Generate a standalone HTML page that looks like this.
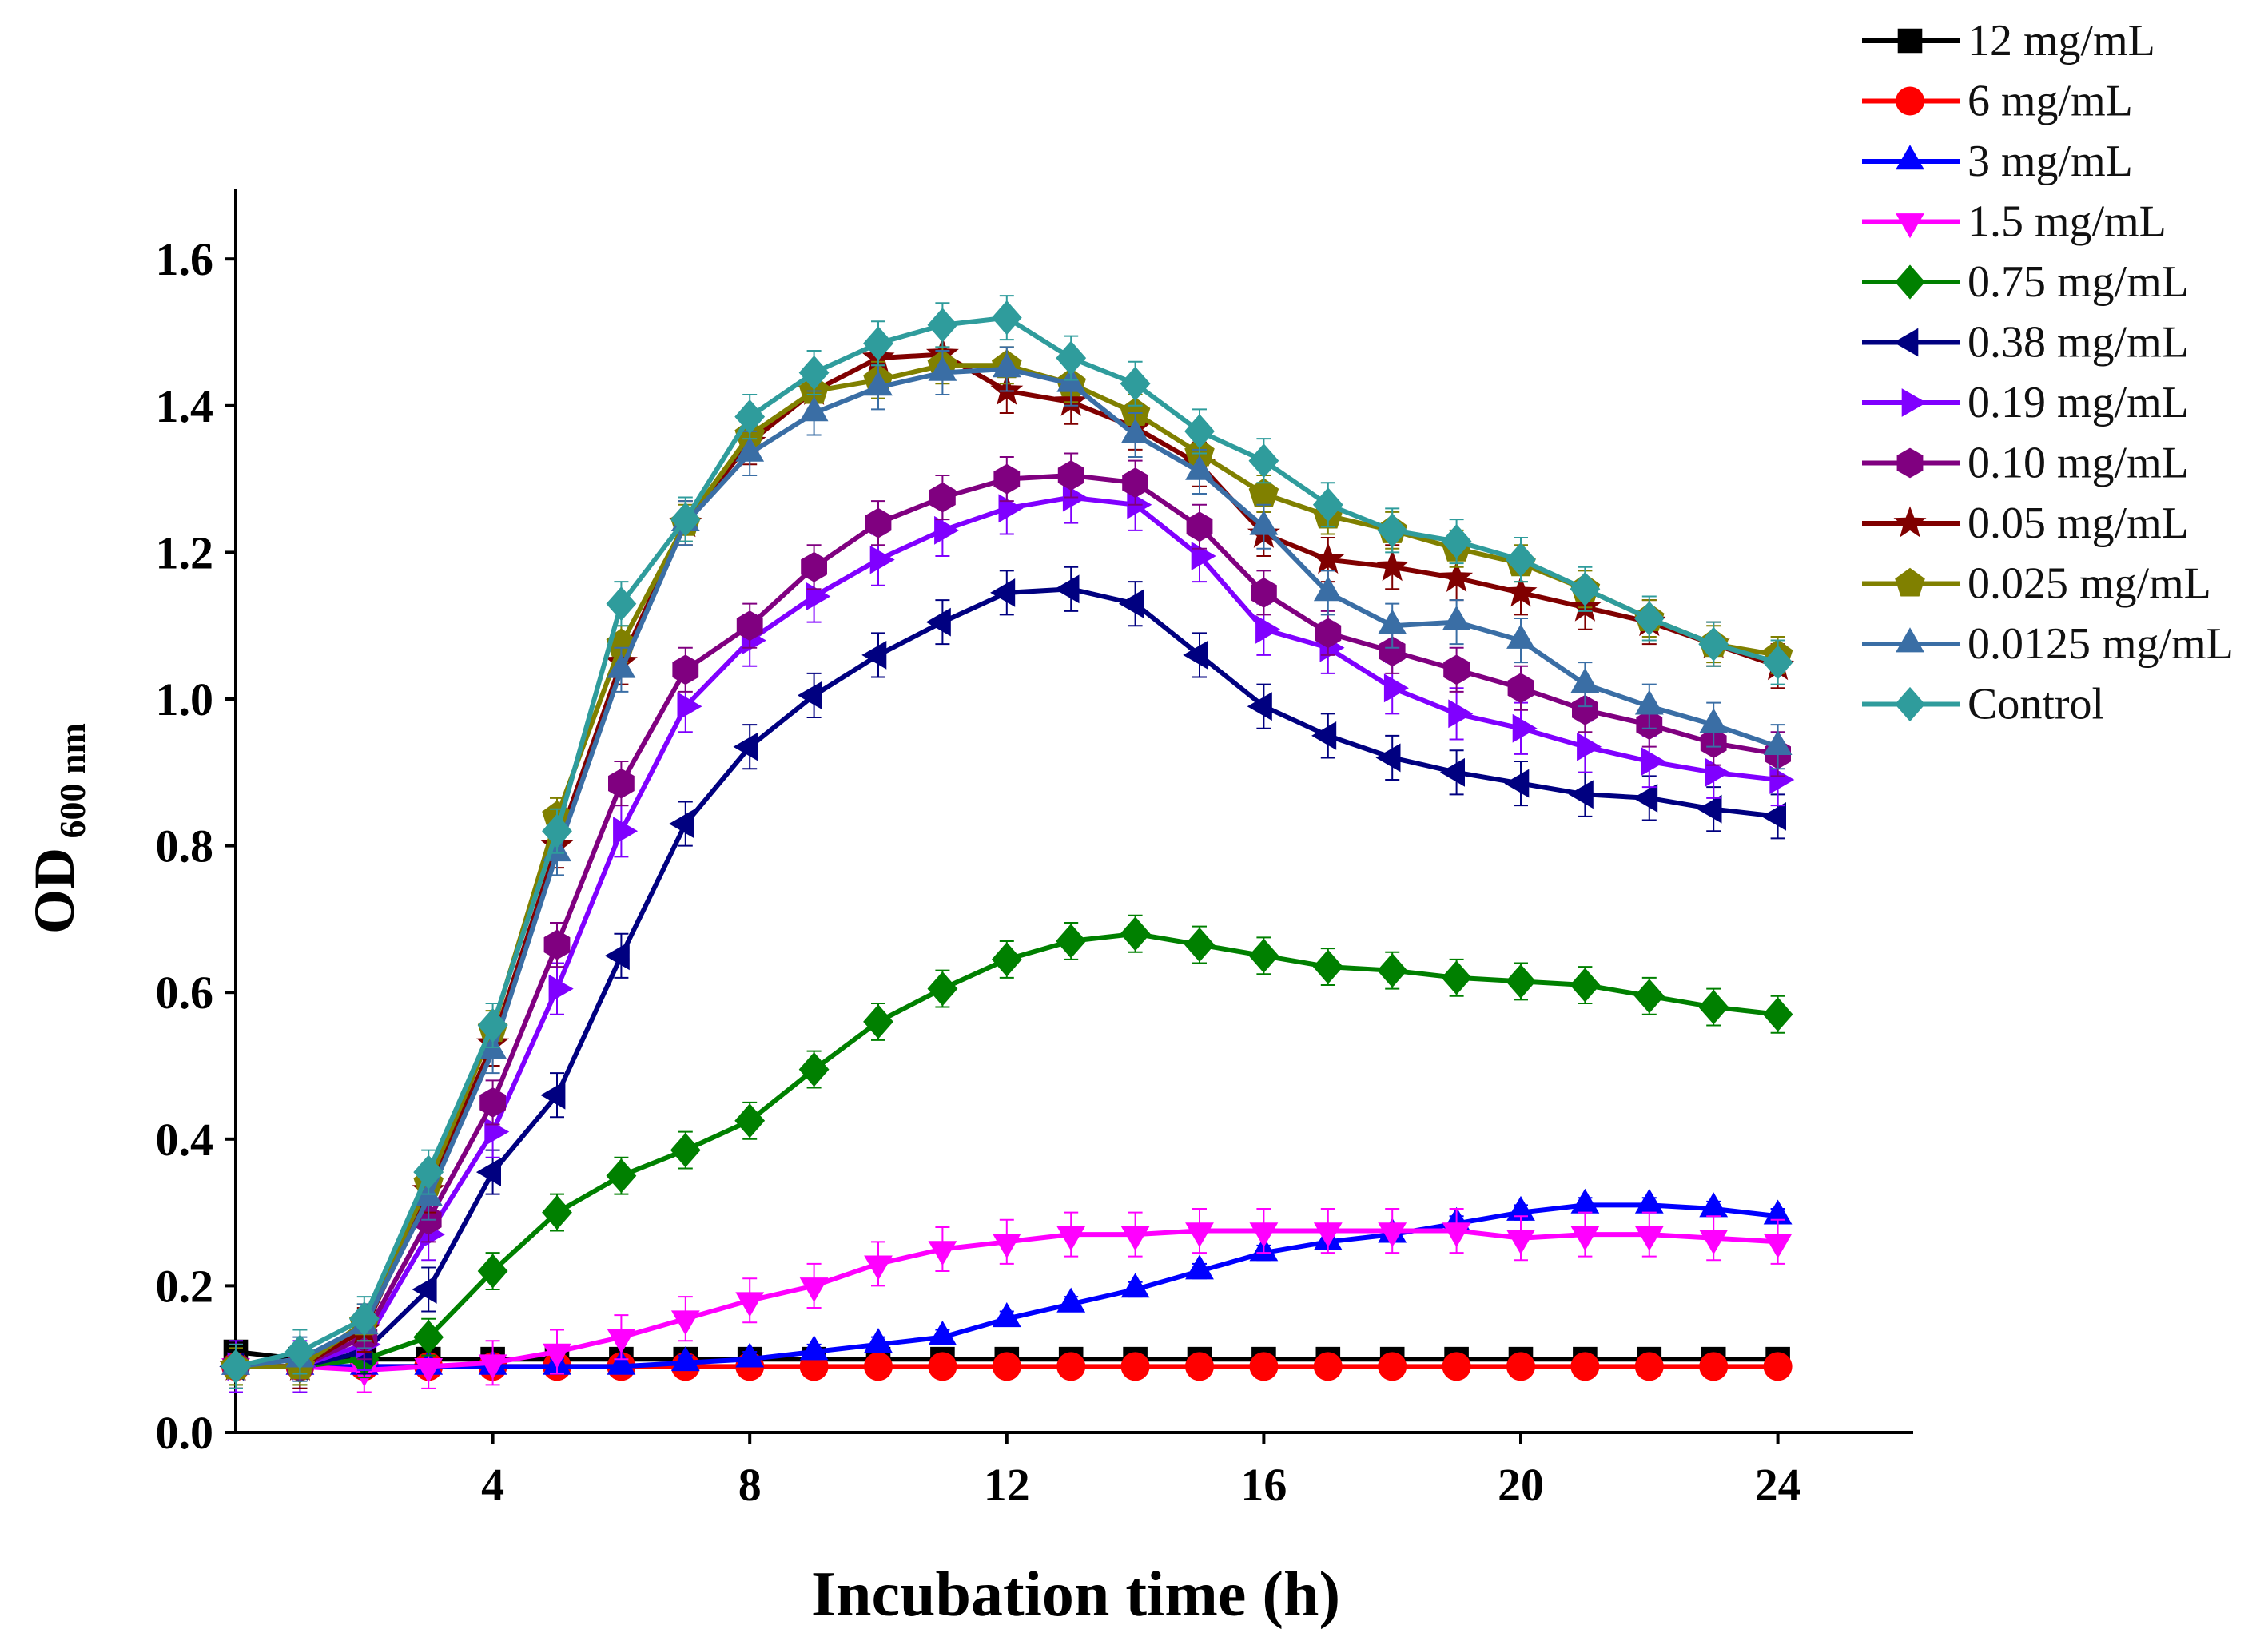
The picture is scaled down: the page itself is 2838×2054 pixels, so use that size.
<!DOCTYPE html>
<html><head><meta charset="utf-8"><style>
html,body{margin:0;padding:0;background:#fff;}
svg{display:block;}
text{font-family:"Liberation Serif",serif;}
</style></head><body>
<svg id="chart" width="2838" height="2054" viewBox="0 0 2838 2054" xmlns="http://www.w3.org/2000/svg"></svg>
<script>
const times=[0,1,2,3,4,5,6,7,8,9,10,11,12,13,14,15,16,17,18,19,20,21,22,23,24];
const xTicks=[4,8,12,16,20,24];
const yTicks=[0.0,0.2,0.4,0.6,0.8,1.0,1.2,1.4,1.6];
const seriesNames=["12 mg/mL","6 mg/mL","3 mg/mL","1.5 mg/mL","0.75 mg/mL","0.38 mg/mL","0.19 mg/mL","0.10 mg/mL","0.05 mg/mL","0.025 mg/mL","0.0125 mg/mL","Control"];
const s12=[0.11,0.10,0.10,0.10,0.10,0.10,0.10,0.10,0.10,0.10,0.10,0.10,0.10,0.10,0.10,0.10,0.10,0.10,0.10,0.10,0.10,0.10,0.10,0.10,0.10];
const s6=[0.09,0.09,0.09,0.09,0.09,0.09,0.09,0.09,0.09,0.09,0.09,0.09,0.09,0.09,0.09,0.09,0.09,0.09,0.09,0.09,0.09,0.09,0.09,0.09,0.09];
const s3=[0.09,0.09,0.09,0.09,0.09,0.09,0.09,0.095,0.10,0.11,0.12,0.13,0.155,0.175,0.195,0.22,0.245,0.26,0.27,0.285,0.30,0.31,0.31,0.305,0.295];
const s15=[0.09,0.09,0.085,0.09,0.095,0.11,0.13,0.155,0.18,0.20,0.23,0.25,0.26,0.27,0.27,0.275,0.275,0.275,0.275,0.275,0.265,0.27,0.27,0.265,0.26];
const s075=[0.09,0.09,0.10,0.13,0.22,0.30,0.35,0.385,0.425,0.495,0.56,0.605,0.645,0.67,0.68,0.665,0.65,0.635,0.63,0.62,0.615,0.61,0.595,0.58,0.57];
const s038=[0.09,0.09,0.11,0.195,0.355,0.46,0.65,0.83,0.935,1.005,1.06,1.105,1.145,1.15,1.13,1.06,0.99,0.95,0.92,0.90,0.885,0.87,0.865,0.85,0.84];
const s019=[0.09,0.09,0.12,0.27,0.41,0.605,0.82,0.99,1.08,1.14,1.19,1.23,1.26,1.275,1.265,1.195,1.095,1.07,1.015,0.98,0.96,0.935,0.915,0.90,0.89];
const s010=[0.09,0.09,0.13,0.29,0.45,0.665,0.885,1.04,1.10,1.18,1.24,1.275,1.30,1.305,1.295,1.235,1.145,1.09,1.065,1.04,1.015,0.985,0.965,0.94,0.925];
const s005=[0.09,0.09,0.14,0.33,0.53,0.80,1.05,1.24,1.35,1.42,1.465,1.47,1.42,1.405,1.37,1.32,1.225,1.19,1.18,1.165,1.145,1.125,1.105,1.075,1.045];
const s0025=[0.09,0.09,0.15,0.34,0.55,0.84,1.075,1.24,1.36,1.42,1.435,1.455,1.455,1.43,1.39,1.335,1.28,1.25,1.23,1.205,1.185,1.15,1.11,1.075,1.06];
const s00125=[0.09,0.10,0.145,0.32,0.52,0.79,1.04,1.24,1.335,1.39,1.425,1.445,1.45,1.43,1.36,1.31,1.235,1.145,1.10,1.105,1.08,1.02,0.99,0.965,0.935];
const sCtrl=[0.09,0.11,0.155,0.355,0.555,0.82,1.13,1.245,1.385,1.445,1.485,1.51,1.52,1.465,1.43,1.365,1.325,1.265,1.23,1.215,1.19,1.15,1.11,1.075,1.05];
const errs=[0.005,0.005,0.01,0.03,0.025,0.03,0.035,0.03,0.03,0.025,0.03,0.03];

const allSeries=[s12,s6,s3,s15,s075,s038,s019,s010,s005,s0025,s00125,sCtrl];
const colors=["#000000","#ff0000","#0000ff","#ff00ff","#008000","#000080","#8000ff","#800080","#800000","#808000","#3a6ea5","#2f9c9c"];
const shapes=["square","circle","up","down","diamond","left","right","hex","star","pent","up","diamond"];

const svg=document.getElementById('chart');
const NS="http://www.w3.org/2000/svg";
const L=295,R=2394,T=237,B=1793;
function xs(t){return L+t*80.4;}
function ys(v){return B-v*918;}
function mk(tag,attrs,parent){const e=document.createElementNS(NS,tag);for(const k in attrs)e.setAttribute(k,attrs[k]);(parent||svg).appendChild(e);return e;}

function markerPath(shape,cx,cy,r){
  let pts=[];
  const poly=(n,rot,rr)=>{for(let i=0;i<n;i++){const a=rot+i*2*Math.PI/n;pts.push([cx+rr*Math.cos(a),cy+rr*Math.sin(a)]);}};
  switch(shape){
    case "square": return `M${cx-r*0.85},${cy-r*0.85}h${r*1.7}v${r*1.7}h${-r*1.7}Z`;
    case "circle": return `M${cx-r},${cy}a${r},${r} 0 1,0 ${2*r},0a${r},${r} 0 1,0 ${-2*r},0Z`;
    case "up": poly(3,-Math.PI/2,r*1.15);break;
    case "down": poly(3,Math.PI/2,r*1.15);break;
    case "left": poly(3,Math.PI,r*1.15);break;
    case "right": poly(3,0,r*1.15);break;
    case "diamond": pts=[[cx,cy-r*1.2],[cx+r*1.05,cy],[cx,cy+r*1.2],[cx-r*1.05,cy]];break;
    case "hex": poly(6,Math.PI/2,r*1.05);break;
    case "pent": poly(5,-Math.PI/2,r*1.1);break;
    case "star": for(let i=0;i<10;i++){const a=-Math.PI/2+i*Math.PI/5;const rr=i%2?r*0.5:r*1.2;pts.push([cx+rr*Math.cos(a),cy+rr*Math.sin(a)]);}break;
  }
  return "M"+pts.map(p=>p[0].toFixed(1)+","+p[1].toFixed(1)).join("L")+"Z";
}

const axes=mk('g',{});


const xAxis=mk('line',{x1:L-2,y1:B,x2:R,y2:B,stroke:'#000','stroke-width':4},axes);


const yAxis=mk('line',{x1:L,y1:T,x2:L,y2:B+2,stroke:'#000','stroke-width':4},axes);


xTicks.forEach(t=>{
  const tk=mk('line',{x1:xs(t),y1:B,x2:xs(t),y2:B+14,stroke:'#000','stroke-width':4},axes);
  
  
  const lb=mk('text',{x:xs(t),y:B+85,'text-anchor':'middle','font-size':58,'font-weight':'bold'},axes);
  
  
  lb.textContent=t;
});
yTicks.forEach(v=>{
  const tk=mk('line',{x1:L-14,y1:ys(v),x2:L,y2:ys(v),stroke:'#000','stroke-width':4},axes);
  
  
  const lb=mk('text',{x:L-28,y:ys(v)+20,'text-anchor':'end','font-size':58,'font-weight':'bold'},axes);
  
  
  lb.textContent=v.toFixed(1);
});
const xt=mk('text',{x:1346,y:2022,'text-anchor':'middle','font-size':80,'font-weight':'bold'});


xt.textContent="Incubation time (h)";
const yt=mk('text',{transform:'translate(92,1037) rotate(-90)','text-anchor':'middle','font-size':72,'font-weight':'bold'});


yt.innerHTML='OD<tspan font-size="46" dy="14"> 600 nm</tspan>';

allSeries.forEach((vals,si)=>{
  const g=mk('g',{});
  
  
  const c=colors[si];
  const d=vals.map((v,i)=>(i?"L":"M")+xs(times[i]).toFixed(1)+","+ys(v).toFixed(1)).join("");
  const ln=mk('path',{d:d,fill:'none',stroke:c,'stroke-width':6,'stroke-linejoin':'round'},g);
  
  
  vals.forEach((v,i)=>{
    const x=xs(times[i]),e=errs[si]*918;
    const eb=mk('path',{d:`M${x},${ys(v)-e}V${ys(v)+e}M${x-9},${ys(v)-e}h18M${x-9},${ys(v)+e}h18`,stroke:c,'stroke-width':2,fill:'none'},g);
    
    
    const m=mk('path',{d:markerPath(shapes[si],x,ys(v),18),fill:c},g);
    
    
  });
});

const lg=mk('g',{});


seriesNames.forEach((n,i)=>{
  const y=51+i*75.5,c=colors[i];
  const eg=mk('g',{},lg);
  
  
  mk('line',{x1:2330,y1:y,x2:2452,y2:y,stroke:c,'stroke-width':6},eg);
  mk('path',{d:markerPath(shapes[i],2390,y,18),fill:c},eg);
  const t=mk('text',{x:2462,y:y+18,'font-size':56,fill:'#111'},eg);
  t.textContent=n;
});
</script>
</body></html>
